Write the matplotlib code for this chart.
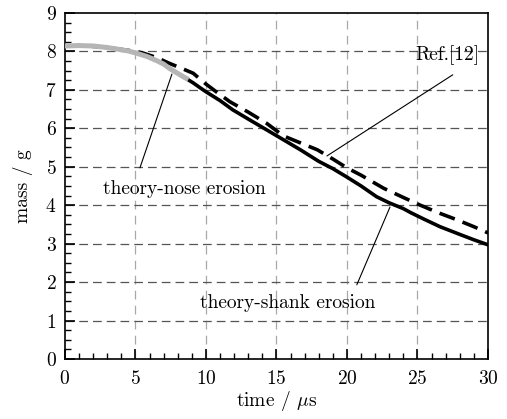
import numpy as np
import matplotlib
matplotlib.use('Agg')
import matplotlib.pyplot as plt

plt.rcParams['font.family'] = ['cmr10', 'Liberation Serif', 'DejaVu Serif']
plt.rcParams['mathtext.fontset'] = 'cm'
plt.rcParams['axes.formatter.use_mathtext'] = True
plt.rcParams['axes.unicode_minus'] = False

# theory - nose erosion (gray)
t_nose = [0.0, 1.0, 2.0, 3.0, 3.7, 4.5, 5.1, 5.8, 6.5, 7.0, 7.4, 7.9, 8.4, 8.6]
m_nose = [8.14, 8.15, 8.14, 8.10, 8.06, 8.01, 7.95, 7.87, 7.76, 7.67, 7.56, 7.45, 7.34, 7.30]

# theory - shank erosion (solid black)
t_shank = [8.3, 9.1, 9.6, 10.0, 11.0, 11.9, 13.0, 14.3, 15.5, 16.7, 18.0, 19.0, 19.5,
           20.0, 21.0, 22.1, 23.0, 24.0, 24.5, 25.5, 26.6, 28.0, 29.0, 30.0]
m_shank = [7.36, 7.18, 7.05, 6.95, 6.72, 6.48, 6.24, 5.96, 5.70, 5.44, 5.14, 4.95, 4.84,
           4.73, 4.50, 4.22, 4.06, 3.91, 3.81, 3.63, 3.44, 3.24, 3.10, 2.97]

# Ref.[12] (dashed)
t_ref = [0.0, 1.0, 2.0, 3.0, 4.0, 5.0, 5.5, 6.5, 7.4, 8.2, 9.1, 10.0, 10.8, 11.7, 13.0,
         14.3, 15.5, 16.7, 17.9, 19.0, 20.0, 21.0, 22.6, 24.0, 25.2, 26.5, 27.8, 29.0, 30.0]
m_ref = [8.14, 8.15, 8.13, 8.10, 8.05, 8.00, 7.96, 7.84, 7.69, 7.57, 7.43, 7.15, 6.93, 6.69, 6.42,
         6.13, 5.80, 5.62, 5.44, 5.20, 4.97, 4.78, 4.44, 4.20, 4.00, 3.80, 3.62, 3.44, 3.28]

fig = plt.figure(figsize=(5.07, 4.19), dpi=100)
ax = fig.add_axes([0.128, 0.1432, 0.8345, 0.826])

# grid
for x in [5, 10, 15, 20, 25]:
    ax.axvline(x, color='#a8a8a8', lw=0.9, dashes=(7, 5), zorder=0)
for y in range(1, 9):
    ax.axhline(y, color='#555555', lw=0.9, dashes=(7, 4), zorder=0)

ax.plot(t_ref, m_ref, color='black', lw=2.6, dashes=(4.5, 2.3), zorder=2)
ax.plot(t_shank, m_shank, color='black', lw=2.6, zorder=3)
ax.plot(t_nose, m_nose, color='#b5b5b5', lw=3.6, zorder=4)

ax.set_xlim(0, 30)
ax.set_ylim(0, 9)
ax.set_xticks(np.arange(0, 31, 5))
ax.set_yticks(np.arange(0, 10, 1))
ax.set_xticks(np.arange(0, 31, 1), minor=True)
ax.set_yticks(np.arange(0, 9.01, 0.25), minor=True)
ax.tick_params(which='both', direction='in', top=False, right=False, labelsize=14)
ax.tick_params(which='major', length=7, width=1.2)
ax.tick_params(which='minor', length=4, width=1.0)
ax.tick_params(axis='x', pad=8)
ax.tick_params(axis='y', pad=6)
for s in ax.spines.values():
    s.set_linewidth(1.2)

ax.set_xlabel(r'time / $\mu$s', fontsize=14, labelpad=1)
ax.set_ylabel('mass / g', fontsize=14, labelpad=9)

# leader lines
line_kw = dict(arrowstyle='-', color='black', lw=0.8, shrinkA=0, shrinkB=0)
ax.annotate('', xy=(18.58, 5.28), xytext=(27.5, 7.39), arrowprops=line_kw)
ax.annotate('', xy=(7.59, 7.41), xytext=(5.32, 4.97), arrowprops=line_kw)
ax.annotate('', xy=(23.05, 3.95), xytext=(20.7, 1.93), arrowprops=line_kw)

# labels
ax.text(27.1, 7.91, 'Ref.[12]', fontsize=14, ha='center', va='center')
ax.text(8.47, 4.43, 'theory-nose erosion', fontsize=14, ha='center', va='center')
ax.text(15.78, 1.46, 'theory-shank erosion', fontsize=14, ha='center', va='center')

fig.savefig('out.png', dpi=100)
